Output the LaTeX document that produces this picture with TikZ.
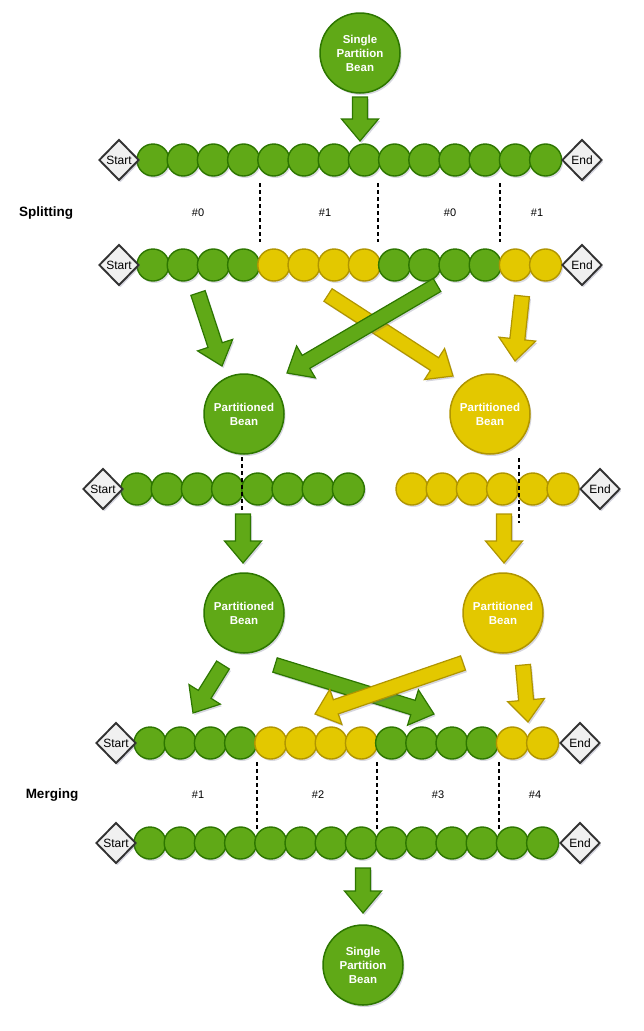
\documentclass[tikz,border=0pt]{standalone}
\usepackage{fontspec}
\setmainfont{Liberation Sans}
\usetikzlibrary{shapes.geometric,calc,shadows}
\definecolor{gfill}{HTML}{60A917}
\definecolor{gline}{HTML}{2D7600}
\definecolor{yfill}{HTML}{E3C800}
\definecolor{yline}{HTML}{B09500}
\definecolor{dfill}{HTML}{F0F0F0}
\definecolor{dline}{HTML}{333333}
\definecolor{shadowc}{HTML}{5A5A80}
\newcommand\beadrow[4]{%
  \foreach[count=\k from 0] \s in {#4}
    \fill[shadowc,opacity=.22] ({#2+30.2*\k+1.5},{#3+2}) circle (16);
  \foreach[count=\k from 0] \s in {#4}
    \node[\s] (#1\k) at ({#2+30.2*\k},#3) {};
}
\newcommand\blockarr[3]{%
  \coordinate (ahb) at ($(#3)!22pt!(#2)$);
  \filldraw[#1] ($(#2)!7.5pt!90:(#3)$) -- ($(ahb)!7.5pt!90:(#3)$) -- ($(ahb)!18.5pt!90:(#3)$) -- (#3)
     -- ($(ahb)!18.5pt!-90:(#3)$) -- ($(ahb)!7.5pt!-90:(#3)$) -- ($(#2)!7.5pt!-90:(#3)$) -- cycle;
}
\begin{document}
\begin{tikzpicture}[x=1pt,y=-1pt,
  shd/.style={drop shadow={shadow xshift=1.5pt,shadow yshift=-2pt,opacity=.25,fill=shadowc}},
  bean/.style={circle,minimum size=80pt,inner sep=0pt,line width=1.5pt,text=white,
    font=\bfseries\fontsize{11.5}{14}\selectfont,align=center,shd},
  gbean/.style={bean,fill=gfill,draw=gline},
  ybean/.style={bean,fill=yfill,draw=yline},
  gb/.style={circle,minimum size=32pt,inner sep=0pt,line width=1.4pt,fill=gfill,draw=gline},
  yb/.style={circle,minimum size=32pt,inner sep=0pt,line width=1.4pt,fill=yfill,draw=yline},
  term/.style={diamond,aspect=1,minimum width=40pt,minimum height=41pt,inner sep=0pt,
    fill=dfill,draw=dline,line width=1.9pt,font=\fontsize{12}{13}\selectfont,shd},
  lbl/.style={font=\fontsize{11}{13}\selectfont},
  sect/.style={font=\bfseries\fontsize{13.5}{16}\selectfont},
  cut/.style={line width=1.4pt,dash pattern=on 4pt off 3pt},
  garr/.style={fill=gfill,draw=gline,line width=1.2pt,shd},
  yarr/.style={fill=yfill,draw=yline,line width=1.2pt,shd}]
\useasboundingbox (0,0) rectangle (644,1031);

% top bean
\node[gbean] (top) at (360,53) {Single\\Partition\\Bean};

% row 1
\beadrow{ra}{153}{160}{gb,gb,gb,gb,gb,gb,gb,gb,gb,gb,gb,gb,gb,gb}
\node[term] (sa) at (119,160) {Start};
\node[term] (ea) at (582,160) {End};

% row 2
\beadrow{rb}{153}{265}{gb,gb,gb,gb,yb,yb,yb,yb,gb,gb,gb,gb,yb,yb}
\node[term] (sb) at (119,265) {Start};
\node[term] (eb) at (582,265) {End};

% splitting labels
\node[sect] (split) at (46,213) {Splitting};
\node[lbl] (s0) at (198,213) {\#0};
\node[lbl] (s1) at (325,213) {\#1};
\node[lbl] (s2) at (450,213) {\#0};
\node[lbl] (s3) at (537,213) {\#1};
\coordinate (c1a) at (260,183); \coordinate (c1b) at (260,242);
\coordinate (c2a) at (378,183); \coordinate (c2b) at (378,242);
\coordinate (c3a) at (500,183); \coordinate (c3b) at (500,242);
\draw[cut] (c1a) -- (c1b);
\draw[cut] (c2a) -- (c2b);
\draw[cut] (c3a) -- (c3b);

% partitioned beans
\node[gbean] (pg1) at (244,414) {Partitioned\\Bean};
\node[ybean] (py1) at (490,414) {Partitioned\\Bean};

% row 3
\beadrow{rg}{137}{489}{gb,gb,gb,gb,gb,gb,gb,gb}
\beadrow{ry}{412}{489}{yb,yb,yb,yb,yb,yb}
\node[term] (sc) at (103,489) {Start};
\node[term] (ec) at (600,489) {End};
\coordinate (c4a) at (242,457); \coordinate (c4b) at (242,512);
\coordinate (c5a) at (519,458); \coordinate (c5b) at (519,523);
\draw[cut] (c4a) -- (c4b);
\draw[cut] (c5a) -- (c5b);

% second partitioned beans
\node[gbean] (pg2) at (244,613) {Partitioned\\Bean};
\node[ybean] (py2) at (503,613) {Partitioned\\Bean};

% row 4
\beadrow{rd}{150}{743}{gb,gb,gb,gb,yb,yb,yb,yb,gb,gb,gb,gb,yb,yb}
\node[term] (sd) at (116,743) {Start};
\node[term] (ed) at (580,743) {End};

% merging labels
\node[sect] (merge) at (52,795) {Merging};
\node[lbl] (m1) at (198,795) {\#1};
\node[lbl] (m2) at (318,795) {\#2};
\node[lbl] (m3) at (438,795) {\#3};
\node[lbl] (m4) at (535,795) {\#4};
\coordinate (c6a) at (257,762); \coordinate (c6b) at (257,830);
\coordinate (c7a) at (377,762); \coordinate (c7b) at (377,830);
\coordinate (c8a) at (499,762); \coordinate (c8b) at (499,830);
\draw[cut] (c6a) -- (c6b);
\draw[cut] (c7a) -- (c7b);
\draw[cut] (c8a) -- (c8b);

% row 5
\beadrow{re}{150}{843}{gb,gb,gb,gb,gb,gb,gb,gb,gb,gb,gb,gb,gb,gb}
\node[term] (se) at (116,843) {Start};
\node[term] (ee) at (580,843) {End};

% bottom bean
\node[gbean] (bot) at (363,965) {Single\\Partition\\Bean};

% arrow end points
\coordinate (a0s) at (360,97);  \coordinate (a0e) at (360,141);
\coordinate (g1s) at (198,293); \coordinate (g1e) at (222,366);
\coordinate (y1s) at (328,295); \coordinate (y1e) at (453,376);
\coordinate (g2s) at (437,285); \coordinate (g2e) at (287,373);
\coordinate (y2s) at (522,296); \coordinate (y2e) at (515,361);
\coordinate (g3s) at (243,514); \coordinate (g3e) at (243,563);
\coordinate (y3s) at (504,514); \coordinate (y3e) at (504,563);
\coordinate (g4s) at (223,665); \coordinate (g4e) at (193,713);
\coordinate (g5s) at (275,665); \coordinate (g5e) at (434,714);
\coordinate (y4s) at (463,663); \coordinate (y4e) at (315,714);
\coordinate (y5s) at (523,665); \coordinate (y5e) at (528,722);
\coordinate (a9s) at (363,868); \coordinate (a9e) at (363,913);

\blockarr{garr}{a0s}{a0e}
\blockarr{garr}{g1s}{g1e}
\blockarr{yarr}{y1s}{y1e}
\blockarr{garr}{g2s}{g2e}
\blockarr{yarr}{y2s}{y2e}
\blockarr{garr}{g3s}{g3e}
\blockarr{yarr}{y3s}{y3e}
\blockarr{garr}{g4s}{g4e}
\blockarr{garr}{g5s}{g5e}
\blockarr{yarr}{y4s}{y4e}
\blockarr{yarr}{y5s}{y5e}
\blockarr{garr}{a9s}{a9e}
\end{tikzpicture}
\end{document}
